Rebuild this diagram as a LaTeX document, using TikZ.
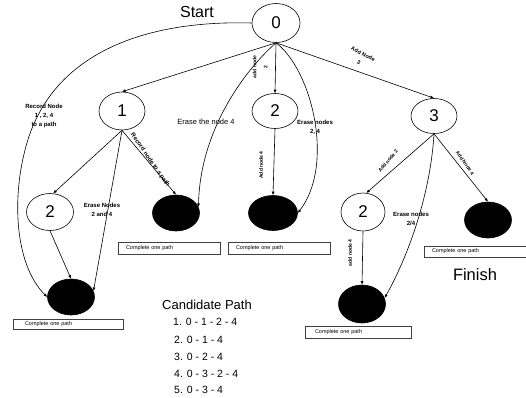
\documentclass[tikz,border=0pt]{standalone}
\usepackage{fontspec}
\setmainfont{Liberation Sans}
\usetikzlibrary{shapes.geometric,arrows.meta}
\begin{document}
\begin{tikzpicture}[x=1pt,y=-1pt,
  wn/.style={ellipse,draw,line width=0.6pt,minimum width=46pt,minimum height=36pt,inner sep=0pt,font=\fontsize{17}{17}\selectfont},
  bn/.style={ellipse,draw,fill=black,line width=0.6pt,minimum width=47pt,minimum height=36pt,inner sep=0pt},
  tip/.style={-{Latex[length=3.5pt,width=3pt]}},
  ar/.style={line width=0.6pt,tip},
  cv/.style={line width=0.6pt},
  lb/.style={font=\fontsize{6}{9}\selectfont\bfseries,align=center,inner sep=0pt},
  rl/.style={font=\fontsize{5}{7}\selectfont\bfseries,align=center,inner sep=0pt},
  cb/.style={draw=black!75,line width=0.4pt,minimum height=12pt,inner xsep=5pt,inner ysep=0pt,text width=#1,align=left,font=\fontsize{5.5}{6}\selectfont},
  big/.style={font=\fontsize{16}{18}\selectfont,inner sep=0pt},
  pl/.style={font=\fontsize{10.5}{12}\selectfont,inner sep=0pt,anchor=west},
]
\useasboundingbox (0,0) rectangle (526,397);
% nodes
\node[wn,minimum width=48pt,minimum height=39pt] (n0) at (276,23) {0};
\node[wn,minimum height=38pt] (n1) at (122,111) {1};
\node[wn,minimum height=35pt] (n2) at (275,111) {2};
\node[wn,minimum height=35pt] (n3) at (434,116) {3};
\node[wn,minimum width=47pt,minimum height=37pt] (n4) at (50,212) {2};
\node[wn,minimum width=44pt,minimum height=38pt] (n5) at (363,212) {2};
\node[bn] (b1) at (71,297) {};
\node[bn] (b2) at (176,213) {};
\node[bn,minimum width=49pt,minimum height=35pt] (b3) at (273,213) {};
\node[bn] (b4) at (488,220) {};
\node[bn,minimum height=38pt] (b5) at (362,304) {};
% edges
\draw[ar] (n0.south) -- (n1.north);
\draw[ar] (n0.south) -- (n2.north);
\draw[ar] (n0.south) -- (n3.north);
\draw[cv,tip] (n0.south) .. controls (245,70) and (200,130) .. (b2.15);
\draw[cv,tip] (n0.south) .. controls (312,70) and (335,165) .. (b3.east);
\draw[cv,tip] (n0.west) .. controls (150,20) and (50,50) .. (25,150) .. controls (12,200) and (15,265) .. (b1.west);
\draw[ar] (n1.south) -- (n4.80);
\draw[ar] (n1.south) -- (b1.15);
\draw[ar] (n1.south) -- (b2.north);
\draw[ar] (n4.south) -- (b1.north);
\draw[ar] (n2.south) -- (b3.north);
\draw[ar] (n3.south) -- (n5.80);
\draw[ar] (n3.south) -- (b4.north);
\draw[cv,tip] (n3.south) .. controls (430,200) and (405,262) .. (b5.15);
\draw[ar] (n5.south) -- (b5.north);
% labels
\node[lb] (l1) at (44,116) {Record Node\\1 , 2, 4\\to a path};
\node[font=\fontsize{7.5}{8}\selectfont,inner sep=0pt] (l2) at (206,122) {Erase the node 4};
\node[rl,rotate=90,font=\fontsize{5}{11}\selectfont\bfseries] (l3) at (260,67) {add node\\2};
\node[rl,font=\fontsize{5.5}{9}\selectfont\bfseries,rotate=-27] (l4) at (361,58) {Add Node\\3};
\node[lb] (l5) at (315,127) {Erase nodes\\2, 4};
\node[lb] (l6) at (102,210) {Erase Nodes\\2 and 4};
\node[rl,font=\fontsize{6}{7}\selectfont\bfseries,rotate=-55] (l7) at (150,160) {Record node to a path};
\node[rl,rotate=90] (l8) at (261,165) {Add node 4};
\node[rl,rotate=50] (l9) at (388,161) {Add node 2};
\node[rl,rotate=-55] (l10) at (465,163) {Add Node 4};
\node[lb] (l11) at (411,219) {Erase nodes\\2/4};
\node[rl,rotate=90] (l12) at (350,253) {add node 4};
% boxes
\node[cb=92pt] (c1) at (169,248.5) {\hspace*{3pt}Complete one path};
\node[cb=92pt] (c2) at (279,248.5) {\hspace*{3pt}Complete one path};
\node[cb=92pt,minimum height=11pt] (c3) at (475,251.5) {\hspace*{3pt}Complete one path};
\node[cb=100pt,minimum height=10pt] (c4) at (68,324) {\hspace*{7pt}Complete one path};
\node[cb=96pt] (c5) at (358,332) {\hspace*{5pt}Complete one path};
% texts
\node[big] (st) at (197,12) {Start};
\node[big,font=\fontsize{16.5}{18}\selectfont] (fi) at (475,275) {Finish};
\node[font=\fontsize{13}{14}\selectfont,inner sep=0pt] (cp) at (207,305) {Candidate Path};
\node[pl] (p1) at (173,322) {1. 0 - 1 - 2 - 4};
\node[pl] (p2) at (174,340) {2. 0 - 1 - 4};
\node[pl] (p3) at (174,357) {3. 0 - 2 - 4};
\node[pl] (p4) at (174,374) {4. 0 - 3 - 2 - 4};
\node[pl] (p5) at (174,390) {5. 0 - 3 - 4};
\end{tikzpicture}
\end{document}
